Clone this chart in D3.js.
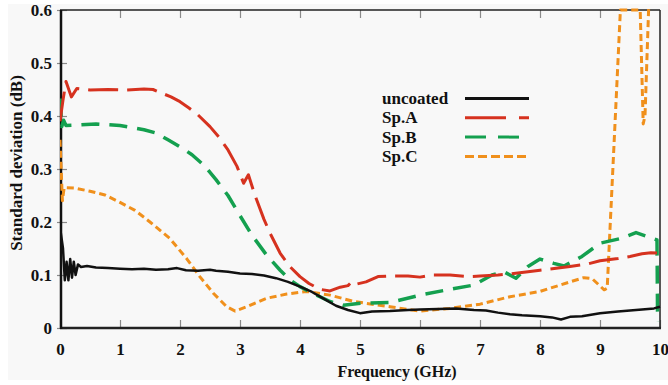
<!DOCTYPE html>
<html>
<head>
<meta charset="utf-8">
<script src="https://cdn.jsdelivr.net/npm/d3@7"></script>
<style>
  body { margin: 0; background: #fff; }
  svg { display: block; }
</style>
</head>
<body>
<script>
// tick values
var xTicks = [0, 1, 2, 3, 4, 5, 6, 7, 8, 9, 10];
var yTicks = [0, 0.1, 0.2, 0.3, 0.4, 0.5, 0.6];

// series: [frequency GHz, std dev dB]
var uncoated = [[0,0.19],[0.05,0.15],[0.08,0.09],[0.11,0.125],[0.14,0.09],[0.17,0.13],[0.2,0.095],[0.23,0.125],
  [0.26,0.1],[0.3,0.12],[0.35,0.115],[0.45,0.117],[0.6,0.114],[0.8,0.113],[1.0,0.112],[1.2,0.111],[1.4,0.112],
  [1.6,0.11],[1.8,0.111],[1.95,0.113],[2.1,0.109],[2.3,0.108],[2.5,0.11],[2.6,0.108],[2.8,0.106],[3.0,0.103],
  [3.2,0.102],[3.4,0.099],[3.6,0.094],[3.8,0.087],[4.0,0.078],[4.2,0.068],[4.4,0.055],[4.6,0.042],[4.8,0.034],
  [5.0,0.028],[5.2,0.031],[5.5,0.032],[5.8,0.034],[6.0,0.035],[6.3,0.036],[6.6,0.037],[6.9,0.034],[7.1,0.033],
  [7.3,0.029],[7.5,0.026],[7.7,0.024],[8.0,0.022],[8.2,0.02],[8.35,0.016],[8.5,0.021],[8.7,0.022],[9.0,0.028],
  [9.3,0.031],[9.5,0.033],[9.7,0.035],[9.9,0.037],[10,0.04]];

var spA = [[0.0,0.39],[0.05,0.43],[0.1,0.465],[0.19,0.436],[0.28,0.452],[0.5,0.449],[0.8,0.45],[1.1,0.449],
  [1.4,0.451],[1.55,0.45],[1.7,0.443],[1.85,0.436],[2.0,0.427],[2.15,0.415],[2.3,0.402],[2.5,0.38],[2.65,0.36],
  [2.8,0.336],[2.95,0.305],[3.06,0.273],[3.14,0.289],[3.25,0.25],[3.4,0.205],[3.5,0.179],[3.67,0.141],[3.83,0.116],
  [4.0,0.097],[4.15,0.084],[4.33,0.073],[4.5,0.07],[4.67,0.077],[4.8,0.08],[4.87,0.088],[4.95,0.083],[5.1,0.087],
  [5.3,0.097],[5.5,0.098],[5.8,0.098],[6.0,0.096],[6.2,0.1],[6.5,0.1],[6.8,0.097],[7.0,0.098],[7.3,0.1],[7.5,0.102],
  [7.8,0.106],[8.0,0.109],[8.3,0.113],[8.5,0.116],[8.8,0.121],[9.0,0.127],[9.3,0.131],[9.5,0.135],[9.7,0.14],
  [9.85,0.142],[10,0.141]];

var spB = [[0,0.433],[0.03,0.38],[0.06,0.392],[0.1,0.382],[0.3,0.383],[0.6,0.385],[1.0,0.382],[1.4,0.374],
  [1.6,0.368],[1.8,0.355],[2.0,0.342],[2.2,0.327],[2.4,0.307],[2.6,0.28],[2.8,0.25],[3.0,0.212],[3.2,0.175],
  [3.44,0.138],[3.67,0.109],[3.83,0.091],[4.0,0.078],[4.22,0.065],[4.5,0.05],[4.72,0.043],[5.05,0.047],[5.5,0.048],
  [6.0,0.062],[6.5,0.073],[6.9,0.081],[7.2,0.1],[7.4,0.106],[7.6,0.094],[7.8,0.116],[8.0,0.13],[8.23,0.122],
  [8.4,0.117],[8.7,0.135],[9.0,0.16],[9.35,0.169],[9.6,0.18],[9.8,0.172],[9.95,0.166],[9.96,0.012]];

var spC = [[0,0.355],[0.04,0.24],[0.07,0.265],[0.25,0.264],[0.5,0.258],[0.75,0.251],[1.0,0.237],[1.25,0.222],
  [1.5,0.2],[1.83,0.169],[2.11,0.131],[2.33,0.097],[2.56,0.065],[2.78,0.04],[2.92,0.032],[3.11,0.04],[3.44,0.056],
  [3.78,0.064],[4.11,0.069],[4.5,0.062],[4.9,0.05],[5.5,0.04],[6.0,0.032],[6.5,0.037],[7.0,0.045],[7.5,0.059],
  [8.0,0.069],[8.5,0.087],[8.73,0.095],[8.87,0.093],[9.07,0.072],[9.12,0.075],[9.34,0.6],[9.67,0.6],[9.72,0.385],
  [9.75,0.4],[9.81,0.6],[9.85,0.75],[10,0.8]];

var seriesNames = ["uncoated", "Sp.A", "Sp.B", "Sp.C"];

// dimensions
var width = 668,
	height = 385,
	plotL = 60, plotR = 660, plotT = 10, plotB = 328;

var series = [
	{ name: seriesNames[0], data: uncoated, color: "#111111", w: 2.5, dash: null, legendDash: null },
	{ name: seriesNames[1], data: spA, color: "#d6321f", w: 3, dash: "30,9", legendDash: "41,13" },
	{ name: seriesNames[2], data: spB, color: "#14a04f", w: 3.5, dash: "18,10", legendDash: "21,12" },
	{ name: seriesNames[3], data: spC, color: "#f0901c", w: 3, dash: "7,4", legendDash: "9,4" }
];

var x = d3.scaleLinear().domain([0, 10]).range([plotL, plotR]);
var y = d3.scaleLinear().domain([0, 0.6]).range([plotB, plotT]);

var svg = d3.select("body").append("svg")
	.attr("width", width)
	.attr("height", height);

svg.append("rect")
	.attr("x", 8).attr("y", 4)
	.attr("width", width - 8).attr("height", 376)
	.attr("fill", "#f8f8f8");

svg.append("defs").append("clipPath")
	.attr("id", "plot")
	.append("rect")
	.attr("x", plotL).attr("y", plotT - 2)
	.attr("width", plotR - plotL + 2).attr("height", plotB - plotT + 2);

var font = "'Liberation Serif', 'Times New Roman', serif";

// axes
var xAxis = svg.append("g")
	.attr("transform", "translate(0," + plotB + ")")
	.call(d3.axisBottom(x).tickValues(xTicks).tickSize(-8).tickPadding(15).tickFormat(d3.format("d")));

var xTop = svg.append("g")
	.attr("transform", "translate(0," + plotT + ")")
	.call(d3.axisTop(x).tickValues(xTicks.slice(1, -1)).tickSize(-8).tickFormat(""));

var yAxis = svg.append("g")
	.attr("transform", "translate(" + plotL + ",0)")
	.call(d3.axisLeft(y).tickValues(yTicks).tickSize(-7).tickPadding(8)
		.tickFormat(function (d) { return d === 0 ? "0" : d3.format(".1f")(d); }));

[xAxis, xTop, yAxis].forEach(function (g) {
	g.select(".domain").remove();
	g.selectAll(".tick line").attr("stroke", "#8a8a8a").attr("stroke-width", 1.2);
	g.selectAll(".tick text")
		.attr("fill", "#111")
		.style("font-family", font)
		.style("font-weight", "bold")
		.style("font-size", "17px");
});
yAxis.selectAll(".tick line").attr("x1", -3);

// frame
svg.append("line").attr("x1", plotL).attr("x2", plotR).attr("y1", plotT).attr("y2", plotT)
	.attr("stroke", "#222").attr("stroke-width", 1.5);
svg.append("line").attr("x1", plotR).attr("x2", plotR).attr("y1", plotT).attr("y2", plotB)
	.attr("stroke", "#222").attr("stroke-width", 1.5);
svg.append("line").attr("x1", plotL).attr("x2", plotR + 1).attr("y1", plotB).attr("y2", plotB)
	.attr("stroke", "#222").attr("stroke-width", 2.5);
svg.append("line").attr("x1", plotL + 1).attr("x2", plotL + 1).attr("y1", plotT).attr("y2", plotB + 1)
	.attr("stroke", "#111").attr("stroke-width", 2.5);

// curves
var line = d3.line()
	.x(function (d) { return x(d[0]); })
	.y(function (d) { return y(d[1]); });

svg.append("g")
	.attr("clip-path", "url(#plot)")
	.selectAll("path")
	.data(series.slice().reverse())
	.enter()
	.append("path")
	.attr("d", function (d) { return line(d.data); })
	.attr("fill", "none")
	.attr("stroke", function (d) { return d.color; })
	.attr("stroke-width", function (d) { return d.w; })
	.attr("stroke-dasharray", function (d) { return d.dash; })
	.attr("stroke-linejoin", "round");

// legend
var legend = svg.selectAll("g.legend")
	.data(series)
	.enter()
	.append("g")
	.attr("class", "legend")
	.attr("transform", function (d, i) { return "translate(382," + (104 + i * 19.3) + ")"; });

legend.append("text")
	.text(function (d) { return d.name; })
	.style("font-family", font)
	.style("font-weight", "bold")
	.style("font-size", "17px")
	.attr("fill", "#111");

legend.append("line")
	.attr("x1", 83).attr("x2", 147)
	.attr("y1", -5.5).attr("y2", -5.5)
	.attr("stroke", function (d) { return d.color; })
	.attr("stroke-width", 3)
	.attr("stroke-dasharray", function (d) { return d.legendDash; });

// axis titles
svg.append("text")
	.text("Frequency (GHz)")
	.attr("x", (plotL + plotR) / 2 + 37)
	.attr("y", 377)
	.attr("text-anchor", "middle")
	.style("font-family", font)
	.style("font-weight", "bold")
	.style("font-size", "16px")
	.attr("fill", "#111");

svg.append("text")
	.text("Standard deviation (dB)")
	.attr("transform", "translate(22," + 163 + ") rotate(-90)")
	.attr("text-anchor", "middle")
	.style("font-family", font)
	.style("font-weight", "bold")
	.style("font-size", "17px")
	.attr("fill", "#111");
</script>
</body>
</html>
